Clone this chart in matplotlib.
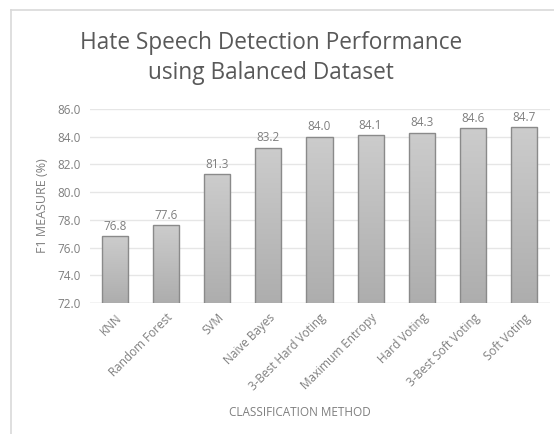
import matplotlib
matplotlib.use("Agg")
import matplotlib.pyplot as plt
import numpy as np
from matplotlib.lines import Line2D

methods = ["KNN", "Random Forest", "SVM", "Naive Bayes", "3-Best Hard Voting",
           "Maximum Entropy", "Hard Voting", "3-Best Soft Voting", "Soft Voting"]
f1_scores = [76.8, 77.6, 81.3, 83.2, 84.0, 84.1, 84.3, 84.6, 84.7]
y_ticks = [72.0, 74.0, 76.0, 78.0, 80.0, 82.0, 84.0, 86.0]

plt.rcParams['font.family'] = ['Open Sans', 'DejaVu Sans']
W, H = 554, 434
fig = plt.figure(figsize=(W/100, H/100), dpi=100)
ax = fig.add_axes([89.5/W, 1 - 303/H, (549.5-89.5)/W, (303-109)/H])

x = np.arange(len(methods))
bars = ax.bar(x, f1_scores, width=0.51, bottom=0, color='none',
              edgecolor='#8a8a8a', linewidth=1.0, zorder=3)
grad = np.linspace(0.80, 0.68, 256).reshape(-1, 1)
for b in bars:
    x0, y0 = b.get_x(), 72.0
    x1, y1 = x0 + b.get_width(), b.get_height()
    im = ax.imshow(np.dstack([grad, grad, grad]), extent=[x0, x1, y0, y1],
                   aspect='auto', origin='upper', zorder=2, interpolation='bilinear')
    im.set_clip_path(b)
    ax.text(b.get_x() + b.get_width()/2, b.get_height() + 0.25, f"{b.get_height():.1f}",
            ha='center', va='bottom', fontsize=8.5, color='#7f7f7f')

ax.set_ylim(72, 86)
ax.set_xlim(-0.5, len(methods) - 0.5)
ax.set_yticks(y_ticks)
ax.set_yticklabels([f"{v:.1f}" for v in y_ticks], fontsize=8.5, color='#7f7f7f')
ax.set_xticks(x)
ax.set_xticklabels(methods, rotation=45, ha='right', rotation_mode='anchor',
                   fontsize=8.5, color='#7f7f7f')
ax.tick_params(axis='both', length=0, pad=6)
ax.grid(axis='y', color='#e6e6e6', linewidth=1.0, zorder=0)
for s in ax.spines.values():
    s.set_visible(False)
ax.axhline(72, color='#d9d9d9', linewidth=1.0, zorder=1)

ax.set_ylabel("F1 MEASURE (%)", fontsize=9, color='#7f7f7f', labelpad=6)
fig.text(300/W, 1 - 413/H, "CLASSIFICATION METHOD", fontsize=8.5, color='#7f7f7f',
         ha='center', va='center')
fig.text(271/W, 1 - 58/H, "Hate Speech Detection Performance\nusing Balanced Dataset",
         fontsize=16.3, color='#595959', ha='center', va='center', linespacing=1.35)

fig.add_artist(Line2D([11/W, 11/W], [0, 1 - 10/H], color='#d9d9d9', linewidth=1.2,
                      transform=fig.transFigure))
fig.add_artist(Line2D([11/W, 1], [1 - 10/H, 1 - 10/H], color='#d9d9d9', linewidth=1.2,
                      transform=fig.transFigure))

fig.savefig("out.png", dpi=100, facecolor='white')
